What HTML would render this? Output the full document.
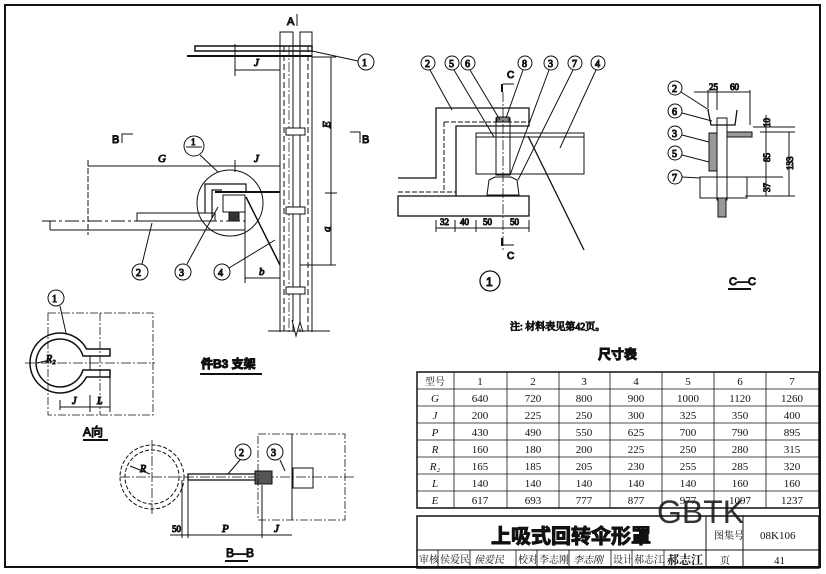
<!DOCTYPE html>
<html><head><meta charset="utf-8"><style>
html,body{margin:0;padding:0;background:#fff}
svg{display:block}
text{font-family:"Liberation Serif","Noto Serif CJK SC",serif;fill:#111}
.s{font-family:"Liberation Sans","Noto Sans CJK SC",sans-serif}
</style></head><body>
<svg width="826" height="574" viewBox="0 0 826 574" xmlns="http://www.w3.org/2000/svg" stroke="#111" fill="none" stroke-width="1">
<rect x="5" y="5" width="815" height="562" stroke-width="2"/>

<g>
<line x1="280" y1="32" x2="280" y2="332"/><line x1="312" y1="32" x2="312" y2="332"/>
<line x1="293" y1="32" x2="293" y2="332"/><line x1="300" y1="32" x2="300" y2="332"/>
<line x1="284" y1="46" x2="284" y2="332" stroke-dasharray="6,3"/><line x1="308" y1="46" x2="308" y2="332" stroke-dasharray="6,3"/>
<line x1="289" y1="46" x2="289" y2="332" stroke-dasharray="10,2,2,2" stroke-width=".7"/>
<rect x="280" y="32" width="13" height="14"/><rect x="300" y="32" width="12" height="14"/>
<rect x="195" y="46" width="117" height="5" stroke-width="1.5"/>
<line x1="187" y1="56" x2="312" y2="56" stroke-width="2"/>
<rect x="286" y="128" width="19" height="7" fill="#fff"/><rect x="286" y="207" width="19" height="7" fill="#fff"/><rect x="286" y="287" width="19" height="7" fill="#fff"/>
<line x1="268" y1="331" x2="330" y2="331"/><polyline points="292,320 296,336 300,322 303,332" fill="#fff"/>
<text x="287" y="25" font-size="11" class="s">A</text><line x1="297" y1="14" x2="297" y2="26"/>
<line x1="312" y1="57" x2="336" y2="57"/><line x1="300" y1="265" x2="336" y2="265"/>
<line x1="331" y1="57" x2="331" y2="265"/><line x1="325" y1="193" x2="337" y2="193"/>
<text x="330" y="128" font-size="11" font-style="italic" transform="rotate(-90 330 128)">E</text>
<text x="330" y="232" font-size="11" font-style="italic" transform="rotate(-90 330 232)">a</text>
<line x1="235" y1="44" x2="235" y2="76"/><line x1="235" y1="70" x2="280" y2="70"/>
<text x="254" y="66" font-size="11" font-style="italic">J</text>
<text x="112" y="143" font-size="11" class="s">B</text><polyline points="122,143 122,134 133,134"/>
<text x="362" y="143" font-size="11" class="s">B</text><polyline points="360,143 360,132 350,132"/>
<line x1="88" y1="160" x2="88" y2="235" stroke-dasharray="6,2"/>
<line x1="88" y1="166" x2="280" y2="166"/><line x1="235" y1="160" x2="235" y2="172"/>
<text x="158" y="162" font-size="11" font-style="italic">G</text><text x="254" y="162" font-size="11" font-style="italic">J</text>
<circle cx="230" cy="203" r="33"/>
<circle cx="194" cy="146" r="10"/><line x1="186" y1="147" x2="202" y2="147"/><text x="191" y="145" font-size="9">1</text>
<line x1="200" y1="155" x2="218" y2="172"/>
<line x1="42" y1="221" x2="245" y2="221" stroke-dasharray="14,3,3,3"/>
<line x1="50" y1="230" x2="245" y2="230"/><line x1="50" y1="221" x2="50" y2="230"/>
<rect x="137" y="213" width="78" height="8"/>
<polyline points="205,213 205,184 246,184 246,192" stroke-width="1.2"/>
<polyline points="212,218 212,190 222,190" stroke-width="1.2"/>
<line x1="215" y1="192" x2="280" y2="192" stroke-width="2"/>
<rect x="223" y="195" width="22" height="17"/>
<rect x="229" y="212" width="10" height="9" fill="#333"/>
<line x1="246" y1="197" x2="280" y2="265" stroke-width="1.5"/>
<line x1="245" y1="212" x2="245" y2="283"/><line x1="245" y1="278" x2="280" y2="278"/>
<text x="259" y="275" font-size="11" font-style="italic">b</text>
<circle cx="366" cy="62" r="8"/><text x="362" y="66" font-size="10">1</text><line x1="312" y1="51" x2="358" y2="61"/>
<circle cx="140" cy="272" r="8"/><text x="136" y="276" font-size="10">2</text><line x1="142" y1="264" x2="152" y2="223"/>
<circle cx="183" cy="272" r="8"/><text x="179" y="276" font-size="10">3</text><line x1="187" y1="264" x2="218" y2="207"/>
<circle cx="222" cy="272" r="8"/><text x="218" y="276" font-size="10">4</text><line x1="229" y1="268" x2="275" y2="240"/>
</g>

<g>
<rect x="48" y="313" width="105" height="102" stroke-dasharray="8,2,2,2" stroke-width=".8"/>
<line x1="100" y1="313" x2="100" y2="415" stroke-dasharray="8,2,2,2" stroke-width=".8"/>
<line x1="25" y1="363" x2="155" y2="363" stroke-dasharray="10,2,2,2" stroke-width=".8"/>
<path d="M86.5,349 A30,30 0 1 0 86.5,377 L110,377 L110,370 L83,370 A24,24 0 1 1 83,356 L110,356 L110,349 Z" stroke-width="1.5"/>
<line x1="90" y1="356" x2="90" y2="370"/>
<line x1="37" y1="363" x2="50" y2="360"/><text x="46" y="362" font-size="10" font-style="italic">R₂</text>
<line x1="60" y1="400" x2="60" y2="410"/><line x1="60" y1="407" x2="110" y2="407"/><line x1="90" y1="395" x2="90" y2="412"/><line x1="110" y1="377" x2="110" y2="412"/>
<text x="72" y="404" font-size="10" font-style="italic">J</text><text x="97" y="404" font-size="10" font-style="italic">L</text>
<circle cx="56" cy="298" r="8"/><text x="52" y="302" font-size="10">1</text><line x1="60" y1="306" x2="66" y2="333"/>
<text x="83" y="436" font-size="12" class="s">A向</text><line x1="83" y1="440" x2="108" y2="440" stroke-width="2"/>
<text x="201" y="368" font-size="12" class="s" font-weight="bold">件B3  支架</text><line x1="200" y1="374" x2="262" y2="374" stroke-width="2"/>
</g>

<g>
<circle cx="152" cy="477" r="32" stroke-dasharray="4,2"/><circle cx="152" cy="477" r="27" stroke-dasharray="4,2"/>
<line x1="120" y1="477" x2="355" y2="477" stroke-dasharray="10,2,2,2" stroke-width=".8"/>
<line x1="152" y1="440" x2="152" y2="515" stroke-dasharray="10,2,2,2" stroke-width=".8"/>
<rect x="188" y="474" width="70" height="6" stroke-width="1.3"/>
<rect x="255" y="471" width="17" height="13" fill="#555"/>
<rect x="258" y="434" width="87" height="86" stroke-dasharray="8,2,2,2" stroke-width=".8"/>
<line x1="292" y1="434" x2="292" y2="520"/>
<rect x="293" y="468" width="20" height="20"/>
<line x1="130" y1="466" x2="150" y2="474"/><text x="140" y="472" font-size="10" font-style="italic">R</text>
<line x1="182" y1="480" x2="182" y2="538"/><line x1="188" y1="480" x2="188" y2="538"/><line x1="262" y1="485" x2="262" y2="538"/>
<line x1="170" y1="535" x2="292" y2="535"/>
<text x="172" y="532" font-size="9">50</text><text x="222" y="532" font-size="11" font-style="italic">P</text><text x="274" y="532" font-size="11" font-style="italic">J</text>
<circle cx="243" cy="452" r="8"/><text x="239" y="456" font-size="10">2</text><line x1="240" y1="460" x2="228" y2="474"/>
<circle cx="275" cy="452" r="8"/><text x="271" y="456" font-size="10">3</text><line x1="280" y1="460" x2="285" y2="471"/>
<text x="226" y="557" font-size="12" class="s">B—B</text><line x1="225" y1="561" x2="248" y2="561" stroke-width="2"/>
</g>

<g>
<polyline points="398,178 436,178 436,108 529,108 529,126 456,126 456,196" stroke-width="1.3"/>
<line x1="398" y1="192" x2="456" y2="192" stroke-dasharray="5,2"/><line x1="444" y1="122" x2="444" y2="190" stroke-dasharray="5,2"/><line x1="444" y1="122" x2="529" y2="122" stroke-dasharray="5,2"/>
<rect x="398" y="196" width="131" height="20" stroke-width="1.3"/>
<rect x="476" y="133" width="108" height="41"/><line x1="476" y1="137" x2="584" y2="137"/>
<line x1="529" y1="174" x2="584" y2="174" stroke-dasharray="6,2"/>
<rect x="496" y="118" width="14" height="57"/><rect x="497" y="117" width="12" height="5" fill="#888"/>
<path d="M487,195 L489,180 L495,177 L511,177 L517,180 L519,195 Z"/>
<line x1="503" y1="92" x2="503" y2="250" stroke-dasharray="10,2,2,2" stroke-width=".8"/>
<line x1="528" y1="136" x2="584" y2="250" stroke-width="1.3"/>
<line x1="436" y1="220" x2="436" y2="232"/><line x1="455" y1="220" x2="455" y2="232"/><line x1="476" y1="220" x2="476" y2="232"/><line x1="529" y1="220" x2="529" y2="232"/>
<line x1="436" y1="228" x2="529" y2="228"/>
<text x="440" y="225" font-size="9">32</text><text x="460" y="225" font-size="9">40</text><text x="483" y="225" font-size="9">50</text><text x="510" y="225" font-size="9">50</text>
<line x1="502" y1="84" x2="502" y2="92" stroke-width="2"/><polyline points="503,84 514,84"/><text x="507" y="78" font-size="10" class="s">C</text>
<line x1="502" y1="238" x2="502" y2="246" stroke-width="2"/><polyline points="503,245 514,245"/><text x="507" y="259" font-size="10" class="s">C</text>
<g font-size="10">
<circle cx="428" cy="63" r="7"/><text x="425" y="67">2</text><line x1="430" y1="70" x2="452" y2="110"/>
<circle cx="452" cy="63" r="7"/><text x="449" y="67">5</text><line x1="454" y1="70" x2="494" y2="137"/>
<circle cx="468" cy="63" r="7"/><text x="465" y="67">6</text><line x1="470" y1="70" x2="500" y2="120"/>
<circle cx="525" cy="63" r="7"/><text x="522" y="67">8</text><line x1="523" y1="70" x2="506" y2="118"/>
<circle cx="551" cy="63" r="7"/><text x="548" y="67">3</text><line x1="549" y1="70" x2="510" y2="175"/>
<circle cx="575" cy="63" r="7"/><text x="572" y="67">7</text><line x1="573" y1="70" x2="518" y2="180"/>
<circle cx="598" cy="63" r="7"/><text x="595" y="67">4</text><line x1="596" y1="70" x2="560" y2="148"/>
</g>
<circle cx="490" cy="281" r="10" stroke-width="1.3"/><text x="486" y="286" font-size="12" class="s">1</text>
<text x="510" y="330" font-size="10">注: 材料表见第42页。</text>
</g>

<g>
<polyline points="708,110 711,125 735,125 737,110" stroke-width="1.3"/>
<rect x="717" y="118" width="10" height="82"/>
<rect x="709" y="133" width="8" height="38" fill="#999"/>
<rect x="727" y="132" width="25" height="5" fill="#999"/>
<rect x="700" y="177" width="47" height="21"/>
<rect x="718" y="198" width="8" height="19" fill="#999"/>
<line x1="694" y1="92" x2="750" y2="92"/><line x1="708" y1="90" x2="708" y2="108"/><line x1="717" y1="90" x2="717" y2="110"/><line x1="750" y1="90" x2="750" y2="125"/>
<text x="709" y="90" font-size="9">25</text><text x="730" y="90" font-size="9">60</text>
<line x1="753" y1="127" x2="795" y2="127"/><line x1="760" y1="132" x2="795" y2="132"/><line x1="745" y1="177" x2="783" y2="177"/><line x1="745" y1="196" x2="795" y2="196"/>
<line x1="766" y1="115" x2="766" y2="196"/><line x1="789" y1="132" x2="789" y2="196"/>
<g font-size="9"><text x="770" y="127" transform="rotate(-90 770 127)">10</text><text x="770" y="162" transform="rotate(-90 770 162)">85</text><text x="770" y="192" transform="rotate(-90 770 192)">37</text><text x="793" y="170" transform="rotate(-90 793 170)">133</text></g>
<g font-size="10">
<circle cx="675" cy="88" r="7"/><text x="672" y="92">2</text><line x1="681" y1="92" x2="709" y2="110"/>
<circle cx="675" cy="111" r="7"/><text x="672" y="115">6</text><line x1="682" y1="113" x2="712" y2="121"/>
<circle cx="675" cy="133" r="7"/><text x="672" y="137">3</text><line x1="682" y1="135" x2="709" y2="142"/>
<circle cx="675" cy="153" r="7"/><text x="672" y="157">5</text><line x1="682" y1="155" x2="709" y2="162"/>
<circle cx="675" cy="177" r="7"/><text x="672" y="181">7</text><line x1="682" y1="177" x2="700" y2="178"/>
</g>
<text x="729" y="285" font-size="11" class="s">C—C</text><line x1="728" y1="289" x2="751" y2="289" stroke-width="2"/>
</g>

<text x="598" y="359" font-size="13" class="s" font-weight="bold">尺寸表</text>
<rect x="417" y="372" width="402" height="136" stroke-width="1.5"/>
<g stroke-width=".8">
<line x1="417" y1="389" x2="819" y2="389"/><line x1="417" y1="406" x2="819" y2="406"/><line x1="417" y1="423" x2="819" y2="423"/><line x1="417" y1="440" x2="819" y2="440"/><line x1="417" y1="457" x2="819" y2="457"/><line x1="417" y1="474" x2="819" y2="474"/><line x1="417" y1="491" x2="819" y2="491"/>
<line x1="454" y1="372" x2="454" y2="508"/><line x1="507" y1="372" x2="507" y2="508"/><line x1="559" y1="372" x2="559" y2="508"/><line x1="610" y1="372" x2="610" y2="508"/><line x1="662" y1="372" x2="662" y2="508"/><line x1="714" y1="372" x2="714" y2="508"/><line x1="766" y1="372" x2="766" y2="508"/>
</g>
<g font-size="11" text-anchor="middle" stroke="none">
<text x="435" y="385" font-size="10">型号</text><text x="480" y="385">1</text><text x="533" y="385">2</text><text x="584" y="385">3</text><text x="636" y="385">4</text><text x="688" y="385">5</text><text x="740" y="385">6</text><text x="792" y="385">7</text>
<text x="435" y="402" font-style="italic">G</text><text x="480" y="402">640</text><text x="533" y="402">720</text><text x="584" y="402">800</text><text x="636" y="402">900</text><text x="688" y="402">1000</text><text x="740" y="402">1120</text><text x="792" y="402">1260</text>
<text x="435" y="419" font-style="italic">J</text><text x="480" y="419">200</text><text x="533" y="419">225</text><text x="584" y="419">250</text><text x="636" y="419">300</text><text x="688" y="419">325</text><text x="740" y="419">350</text><text x="792" y="419">400</text>
<text x="435" y="436" font-style="italic">P</text><text x="480" y="436">430</text><text x="533" y="436">490</text><text x="584" y="436">550</text><text x="636" y="436">625</text><text x="688" y="436">700</text><text x="740" y="436">790</text><text x="792" y="436">895</text>
<text x="435" y="453" font-style="italic">R</text><text x="480" y="453">160</text><text x="533" y="453">180</text><text x="584" y="453">200</text><text x="636" y="453">225</text><text x="688" y="453">250</text><text x="740" y="453">280</text><text x="792" y="453">315</text>
<text x="435" y="470" font-style="italic">R₂</text><text x="480" y="470">165</text><text x="533" y="470">185</text><text x="584" y="470">205</text><text x="636" y="470">230</text><text x="688" y="470">255</text><text x="740" y="470">285</text><text x="792" y="470">320</text>
<text x="435" y="487" font-style="italic">L</text><text x="480" y="487">140</text><text x="533" y="487">140</text><text x="584" y="487">140</text><text x="636" y="487">140</text><text x="688" y="487">140</text><text x="740" y="487">160</text><text x="792" y="487">160</text>
<text x="435" y="504" font-style="italic">E</text><text x="480" y="504">617</text><text x="533" y="504">693</text><text x="584" y="504">777</text><text x="636" y="504">877</text><text x="688" y="504">977</text><text x="740" y="504">1097</text><text x="792" y="504">1237</text>
</g>

<rect x="417" y="516" width="402" height="52" stroke-width="1.5"/>
<line x1="417" y1="550" x2="819" y2="550"/><line x1="706" y1="516" x2="706" y2="568"/><line x1="743" y1="516" x2="743" y2="568"/>
<g stroke-width=".8"><line x1="438" y1="550" x2="438" y2="568"/><line x1="470" y1="550" x2="470" y2="568"/><line x1="516" y1="550" x2="516" y2="568"/><line x1="537" y1="550" x2="537" y2="568"/><line x1="569" y1="550" x2="569" y2="568"/><line x1="611" y1="550" x2="611" y2="568"/><line x1="632" y1="550" x2="632" y2="568"/><line x1="664" y1="550" x2="664" y2="568"/></g>
<text x="491" y="543" font-size="20" class="s" font-weight="bold">上吸式回转伞形罩</text>
<g font-size="10" stroke="none">
<text x="419" y="563">审核</text><text x="440" y="563">侯爱民</text><text x="474" y="563" font-style="italic">侯爱民</text>
<text x="518" y="563">校对</text><text x="539" y="563">李志刚</text><text x="573" y="563" font-style="italic">李志刚</text>
<text x="613" y="563">设计</text><text x="634" y="563">郝志江</text><text x="667" y="564" font-size="12" font-weight="bold">郝志江</text>
<text x="714" y="539">图集号</text><text x="760" y="539" font-size="11">08K106</text>
<text x="720" y="564">页</text><text x="774" y="564" font-size="11">41</text>
</g>
<text x="657" y="523" font-size="32" class="s" fill="#444" stroke="none" opacity=".85">GBTK</text>
</svg>
</body></html>
